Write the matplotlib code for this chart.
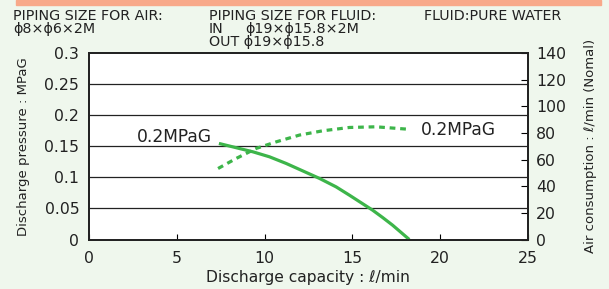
import matplotlib
matplotlib.use("Agg")
import matplotlib.pyplot as plt
from matplotlib.patches import Rectangle

plt.rcParams['font.family'] = ['DejaVu Sans']

# Discharge pressure curve (solid), left axis
flow_p = [7.40, 9.34, 10.28, 11.23, 13.13, 14.07, 14.83, 16.15, 16.72, 17.29, 18.24]
pressure = [0.1545, 0.141, 0.133, 0.1223, 0.0982, 0.0847, 0.0713, 0.0472, 0.0354, 0.023, 0.0]

# Air consumption curve (dashed), right axis
flow_a = [7.35, 8.39, 9.53, 10.66, 11.99, 13.31, 14.83, 16.34, 18.05]
air = [53.3, 60.9, 68.4, 73.3, 78.4, 81.6, 84.1, 84.6, 82.9]

xticks = [0, 5, 10, 15, 20, 25]
yticks_l = [0, 0.05, 0.1, 0.15, 0.2, 0.25, 0.3]
ytick_labels_l = ['0', '0.05', '0.1', '0.15', '0.2', '0.25', '0.3']
yticks_r = [0, 20, 40, 60, 80, 100, 120, 140]

GREEN = '#3db54a'
BG = '#eff7ed'
INK = '#222222'

fig = plt.figure(figsize=(6.09, 2.89), dpi=100, facecolor=BG)
W, H = 609, 289
ax = fig.add_axes([89 / W, 1 - 239.5 / H, (528 - 89) / W, (239.5 - 53) / H])
ax.set_facecolor('white')

ax.set_xlim(0, 25)
ax.set_ylim(0, 0.3)
ax.set_xticks(xticks)
ax.set_xticklabels([str(v) for v in xticks])
ax.set_yticks(yticks_l)
ax.set_yticklabels(ytick_labels_l)
ax.tick_params(axis='y', length=0, labelsize=11.3, pad=7, labelcolor=INK)
ax.tick_params(axis='x', direction='in', length=4, labelsize=11.3, pad=8, width=0.8, labelcolor=INK)
for v in yticks_l[1:-1]:
    ax.axhline(v, color=INK, lw=0.9, zorder=1)
for s in ax.spines.values():
    s.set_color(INK)
    s.set_linewidth(1.3)

ax.plot(flow_p, pressure, color=GREEN, lw=2.3, solid_capstyle='butt', zorder=3)
ax.set_xlabel('Discharge capacity : ℓ/min', fontsize=11.2, labelpad=3, color=INK)
ax.set_ylabel('Discharge pressure : MPaG', fontsize=9.5, labelpad=10, color=INK)

ax2 = ax.twinx()
ax2.set_ylim(0, 140)
ax2.set_yticks(yticks_r)
ax2.tick_params(axis='y', direction='in', length=5, labelsize=11.3, pad=6, width=0.8, labelcolor=INK)
ax2.plot(flow_a, air, color=GREEN, lw=2.3, ls=(0, (1.8, 1.5)), zorder=3)
ax2.set_ylabel('Air consumption : ℓ/min (Nomal)', fontsize=9.5, labelpad=13, color=INK)
for s in ax2.spines.values():
    s.set_color(INK)
    s.set_linewidth(1.3)

ax.text(7.0, 0.1654, '0.2MPaG', fontsize=12.3, ha='right', va='center', color=INK)
ax2.text(18.9, 82.1, '0.2MPaG', fontsize=12.3, ha='left', va='center', color=INK)

# Top orange bar
fig.patches.append(Rectangle((16 / W, 1 - 5 / H), (601 - 16) / W, 5 / H,
                             transform=fig.transFigure, color='#f8a98a', zorder=0))

fs = 10.3
fig.text(13 / W, 1 - 16 / H, 'PIPING SIZE FOR AIR:', fontsize=fs, va='center', color=INK)
fig.text(13 / W, 1 - 29 / H, 'ϕ8×ϕ6×2M', fontsize=fs, va='center', color=INK)
fig.text(209 / W, 1 - 16 / H, 'PIPING SIZE FOR FLUID:', fontsize=fs, va='center', color=INK)
fig.text(209 / W, 1 - 29 / H, 'IN', fontsize=fs, va='center', color=INK)
fig.text(245 / W, 1 - 29 / H, 'ϕ19×ϕ15.8×2M', fontsize=fs, va='center', color=INK)
fig.text(209 / W, 1 - 42 / H, 'OUT ϕ19×ϕ15.8', fontsize=fs, va='center', color=INK)
fig.text(424 / W, 1 - 16 / H, 'FLUID:PURE WATER', fontsize=fs, va='center', color=INK)

fig.savefig('out.png', dpi=100, facecolor=BG)
